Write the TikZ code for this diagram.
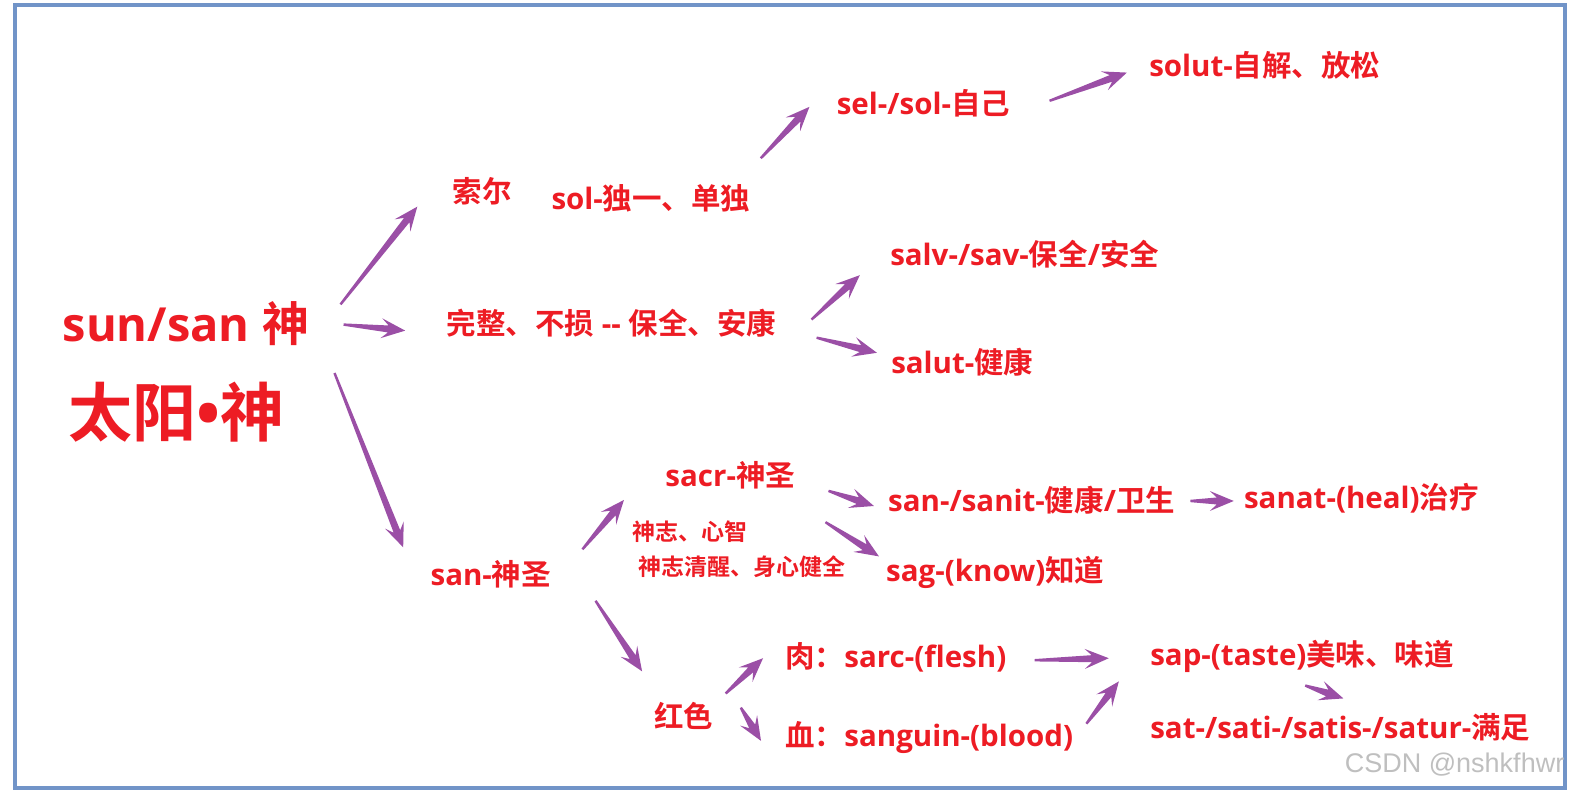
\documentclass[tikz,border=0pt]{standalone}
\usepackage{fontspec}
\newfontfamily\cjk{Noto Sans CJK SC}[BoldFont={Noto Sans CJK SC Bold}]
\newfontfamily\latin{Open Sans}
\newfontfamily\wmfont{Liberation Sans}
\usetikzlibrary{calc}
\definecolor{txtred}{RGB}{237,28,36}
\definecolor{arrpurple}{RGB}{155,79,166}
\definecolor{framblue}{RGB}{113,148,200}

% Han characters and CJK punctuation in Noto Sans CJK, the rest in Open Sans
\XeTeXinterchartokenstate=1
\newXeTeXintercharclass\hanclass
\count255="3000
\loop\ifnum\count255<"A000 \XeTeXcharclass\count255=\hanclass \advance\count255 by 1 \repeat
\XeTeXcharclass"FF1A=\hanclass
\XeTeXinterchartoks 0 \hanclass = {\begingroup\cjk}
\XeTeXinterchartoks 4095 \hanclass = {\begingroup\cjk}
\XeTeXinterchartoks \hanclass 0 = {\endgroup}
\XeTeXinterchartoks \hanclass 4095 = {\endgroup}

\tikzset{
	lbl/.style={anchor=west, inner sep=0pt, text height=23.6pt, text depth=2.4pt, text=txtred, font=\latin\bfseries\fontsize{29.5}{31}\selectfont},
	lblsmall/.style={lbl, text height=18.4pt, text depth=1.8pt, font=\latin\bfseries\fontsize{23}{25}\selectfont},
	lblbig/.style={lbl, text height=37.6pt, text depth=3.8pt, font=\latin\bfseries\fontsize{47}{50}\selectfont},
	lblhuge/.style={lbl, text height=51.2pt, text depth=5.1pt, font=\latin\bfseries\fontsize{64}{68}\selectfont},
	arr/.style={fill=arrpurple, draw=none, to path={
		($(\tikztostart)!1.2pt!90:(\tikztotarget)$)
		-- ($($(\tikztotarget)!17pt!(\tikztostart)$)!3.5pt!90:(\tikztotarget)$)
		-- ($($(\tikztotarget)!24pt!(\tikztostart)$)!10pt!90:(\tikztotarget)$)
		-- (\tikztotarget)
		-- ($($(\tikztotarget)!24pt!(\tikztostart)$)!10pt!-90:(\tikztotarget)$)
		-- ($($(\tikztotarget)!17pt!(\tikztostart)$)!3.5pt!-90:(\tikztotarget)$)
		-- ($(\tikztostart)!1.2pt!-90:(\tikztotarget)$) -- cycle}}
}

\begin{document}
\begin{tikzpicture}[x=1.008pt, y=-1.008pt]
	\useasboundingbox (0, 0) rectangle (1568.5, 788.7);
	\draw[framblue, line width=4pt] (14.9, 5) rectangle (1552.6, 781.7);

	\node[lblbig] (sun) at (62, 322) {sun/san 神};
	\node[lblhuge] (taiyang) at (68, 410) {太阳•神};

	\node[lbl] (suoer) at (449, 190) {索尔};
	\node[lbl] (sol) at (547, 197) {sol-独一、单独};
	\node[lbl] (sel) at (830, 103) {sel-/sol-自己};
	\node[lbl] (solut) at (1140, 65) {solut-自解、放松};

	\node[lbl] (wanzheng) at (443, 321) {完整、不损 {-}{-} 保全、安康};
	\node[lbl] (salv) at (883, 253) {salv-/sav-保全/安全};
	\node[lbl] (salut) at (884, 360) {salut-健康};

	\node[lbl] (san) at (427, 570) {san-神圣};
	\node[lbl] (sacr) at (660, 472) {sacr-神圣};
	\node[lblsmall] (xinzhi) at (627, 528) {神志、心智};
	\node[lblsmall] (qingxing) at (633, 563) {神志清醒、身心健全};
	\node[lbl] (sanit) at (881, 497) {san-/sanit-健康/卫生};
	\node[lbl] (sanat) at (1234, 494) {sanat-(heal)治疗};
	\node[lbl] (sag) at (879, 566) {sag-(know)知道};

	\node[lbl] (hongse) at (649, 711) {红色};
	\node[lbl] (rou) at (779, 652) {肉：sarc-(flesh)};
	\node[lbl] (xue) at (779, 730) {血：sanguin-(blood)};
	\node[lbl] (sap) at (1141, 650) {sap-(taste)美味、味道};
	\node[lbl] (sat) at (1141, 722) {sat-/sati-/satis-/satur-满足};

	\node[anchor=west, inner sep=0pt, text=black!25, font=\wmfont\fontsize{27}{30}\selectfont] (csdn) at (1334, 759) {CSDN @nshkfhwr};

	% sun/san
	\path[arr] ([shift={(31,-20)}]sun.east) to ([shift={(-35,15)}]suoer.west);
	\path[arr] ([shift={(34,0)}]sun.east) to ([shift={(-41,7)}]wanzheng.west);
	\path[arr] ([shift={(25,48)}]sun.east) to ([shift={(-27,-27)}]san.west);
	% sol
	\path[arr] ([shift={(10,-40)}]sol.east) to ([shift={(-27,3)}]sel.west);
	\path[arr] ([shift={(39,-3)}]sel.east) to ([shift={(-22,7)}]solut.west);
	% salv / salut
	\path[arr] ([shift={(35,-4)}]wanzheng.east) to ([shift={(-30,20)}]salv.west);
	\path[arr] ([shift={(40,14)}]wanzheng.east) to ([shift={(-14,-10)}]salut.west);
	% san
	\path[arr] ([shift={(31,-25)}]san.east) to ([shift={(-41,24)}]sacr.west);
	\path[arr] ([shift={(44,26)}]san.east) to ([shift={(-12,-45)}]hongse.west);
	\path[arr] ([shift={(33,15)}]sacr.east) to ([shift={(-14,5)}]sanit.west);
	\path[arr] ([shift={(30,46)}]sacr.east) to ([shift={(-7,-14)}]sag.west);
	\path[arr] ([shift={(15,0)}]sanit.east) to ([shift={(-10,3)}]sanat.west);
	% red
	\path[arr] ([shift={(12,-23)}]hongse.east) to ([shift={(-22,1)}]rou.west);
	\path[arr] ([shift={(27,-9)}]hongse.east) to ([shift={(-24,5)}]xue.west);
	\path[arr] ([shift={(28,3)}]rou.east) to ([shift={(-41,3)}]sap.west);
	\path[arr] ([shift={(13,-12)}]xue.east) to ([shift={(-31,26)}]sap.west);
	\path[arr] ([shift={(3,17)}]sap.south) to ([shift={(3,-16)}]sat.north);
\end{tikzpicture}
\end{document}
